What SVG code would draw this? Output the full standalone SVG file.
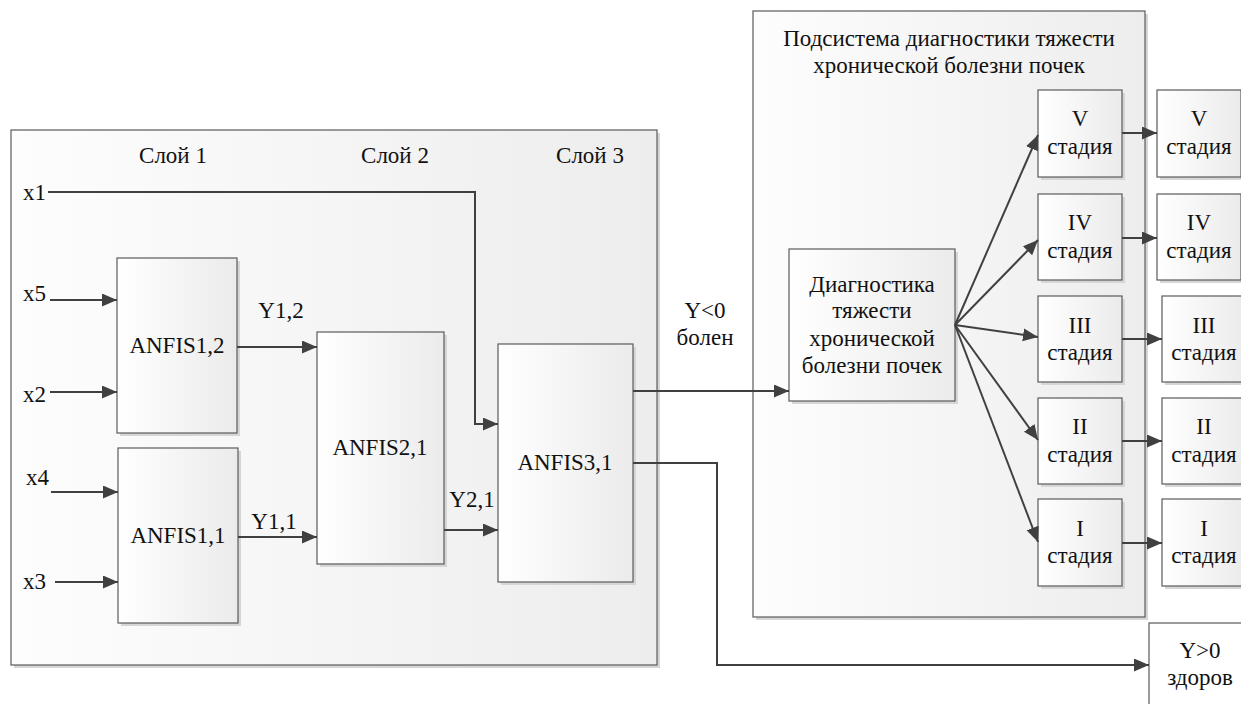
<svg xmlns="http://www.w3.org/2000/svg" width="1241" height="704" viewBox="0 0 1241 704">
<defs>
<linearGradient id="g" x1="0" y1="0" x2="1" y2="0">
<stop offset="0" stop-color="#ffffff"/>
<stop offset="1" stop-color="#ebebeb"/>
</linearGradient>
<linearGradient id="gp" x1="0" y1="0" x2="1" y2="0">
<stop offset="0" stop-color="#fdfdfd"/>
<stop offset="1" stop-color="#ededed"/>
</linearGradient>
<marker id="ah" markerUnits="userSpaceOnUse" markerWidth="16" markerHeight="14" refX="15" refY="6.5" orient="auto" viewBox="0 0 16 14">
<path d="M0,0 L15,6.5 L0,13 z" fill="#404040"/>
</marker>
<style>
.box{fill:url(#g);stroke:#5a5a5a;stroke-width:1.2}
.panel{fill:url(#gp);stroke:#5a5a5a;stroke-width:1.2}
.sh{fill:#d6d6d6}
.ar{fill:none;stroke:#404040;stroke-width:2;marker-end:url(#ah)}
.t{font-family:Liberation Serif, serif;font-size:23px;fill:#111}
.c{text-anchor:middle}
</style>
</defs>

<g id="panel-left">
<rect class="sh" x="14" y="133" width="646" height="535"/>
<rect class="panel" x="11" y="130" width="646" height="535"/>
<text class="t c" x="173" y="163">Слой 1</text>
<text class="t c" x="395" y="163">Слой 2</text>
<text class="t c" x="590" y="163">Слой 3</text>
</g>

<g id="panel-right">
<rect class="sh" x="756" y="14" width="392" height="606"/>
<rect class="panel" x="753" y="11" width="392" height="606"/>
<text class="t c" x="949" y="46">Подсистема диагностики тяжести</text>
<text class="t c" x="949" y="73">хронической болезни почек</text>
</g>

<g id="inputs">
<text class="t" x="23" y="200">x1</text>
<text class="t" x="23" y="301">x5</text>
<text class="t" x="23" y="402">x2</text>
<text class="t" x="26" y="485">x4</text>
<text class="t" x="23" y="589">x3</text>
</g>

<g id="anfis12">
<rect class="sh" x="120" y="261" width="120" height="175"/>
<rect class="box" x="117" y="258" width="120" height="175"/>
<text class="t c" x="177" y="353">ANFIS1,2</text>
</g>
<g id="anfis11">
<rect class="sh" x="121" y="451" width="120" height="175"/>
<rect class="box" x="118" y="448" width="120" height="175"/>
<text class="t c" x="178" y="543">ANFIS1,1</text>
</g>
<g id="anfis21">
<rect class="sh" x="320" y="335" width="127" height="232"/>
<rect class="box" x="317" y="332" width="127" height="232"/>
<text class="t c" x="380" y="455">ANFIS2,1</text>
</g>
<g id="anfis31">
<rect class="sh" x="501" y="347" width="135" height="238"/>
<rect class="box" x="498" y="344" width="135" height="238"/>
<text class="t c" x="565" y="470">ANFIS3,1</text>
</g>

<g id="diag">
<rect class="sh" x="792" y="252" width="166" height="152"/>
<rect class="box" x="789" y="249" width="166" height="152"/>
<text class="t c" x="872" y="292">Диагностика</text>
<text class="t c" x="872" y="318">тяжести</text>
<text class="t c" x="872" y="346">хронической</text>
<text class="t c" x="872" y="373">болезни почек</text>
</g>

<g id="stage5-in">
<rect class="sh" x="1041" y="93" width="84" height="87"/>
<rect class="box" x="1038" y="90" width="84" height="87"/>
<text class="t c" x="1080" y="126">V</text>
<text class="t c" x="1080" y="154">стадия</text>
</g>
<g id="stage4-in">
<rect class="sh" x="1041" y="197" width="84" height="86"/>
<rect class="box" x="1038" y="194" width="84" height="86"/>
<text class="t c" x="1080" y="230">IV</text>
<text class="t c" x="1080" y="258">стадия</text>
</g>
<g id="stage3-in">
<rect class="sh" x="1041" y="299" width="84" height="86"/>
<rect class="box" x="1038" y="296" width="84" height="86"/>
<text class="t c" x="1080" y="333">III</text>
<text class="t c" x="1080" y="360">стадия</text>
</g>
<g id="stage2-in">
<rect class="sh" x="1041" y="401" width="84" height="86"/>
<rect class="box" x="1038" y="398" width="84" height="86"/>
<text class="t c" x="1080" y="434">II</text>
<text class="t c" x="1080" y="462">стадия</text>
</g>
<g id="stage1-in">
<rect class="sh" x="1041" y="502" width="84" height="87"/>
<rect class="box" x="1038" y="499" width="84" height="87"/>
<text class="t c" x="1080" y="536">I</text>
<text class="t c" x="1080" y="563">стадия</text>
</g>

<g id="stage5-out">
<rect class="sh" x="1160" y="93" width="84" height="87"/>
<rect class="box" x="1157" y="90" width="84" height="87"/>
<text class="t c" x="1199" y="126">V</text>
<text class="t c" x="1199" y="154">стадия</text>
</g>
<g id="stage4-out">
<rect class="sh" x="1160" y="197" width="84" height="86"/>
<rect class="box" x="1157" y="194" width="84" height="86"/>
<text class="t c" x="1199" y="230">IV</text>
<text class="t c" x="1199" y="258">стадия</text>
</g>
<g id="stage3-out">
<rect class="sh" x="1165" y="299" width="84" height="86"/>
<rect class="box" x="1162" y="296" width="84" height="86"/>
<text class="t c" x="1204" y="333">III</text>
<text class="t c" x="1204" y="360">стадия</text>
</g>
<g id="stage2-out">
<rect class="sh" x="1165" y="401" width="84" height="86"/>
<rect class="box" x="1162" y="398" width="84" height="86"/>
<text class="t c" x="1204" y="434">II</text>
<text class="t c" x="1204" y="462">стадия</text>
</g>
<g id="stage1-out">
<rect class="sh" x="1165" y="502" width="84" height="87"/>
<rect class="box" x="1162" y="499" width="84" height="87"/>
<text class="t c" x="1204" y="536">I</text>
<text class="t c" x="1204" y="563">стадия</text>
</g>

<g id="healthy">
<rect x="1149" y="623" width="100" height="90" fill="#ffffff" stroke="#5a5a5a" stroke-width="1.2"/>
<text class="t c" x="1200" y="658">Y&gt;0</text>
<text class="t c" x="1200" y="685">здоров</text>
</g>

<g id="connectors">
<polyline class="ar" points="48,192 475,192 475,424 498,424"/>
<line class="ar" x1="50" y1="300" x2="117" y2="300"/>
<line class="ar" x1="50" y1="392" x2="117" y2="392"/>
<line class="ar" x1="51" y1="492" x2="118" y2="492"/>
<line class="ar" x1="55" y1="582" x2="118" y2="582"/>
<line class="ar" x1="237" y1="347" x2="317" y2="347"/>
<line class="ar" x1="238" y1="537" x2="317" y2="537"/>
<line class="ar" x1="444" y1="530" x2="498" y2="530"/>
<line class="ar" x1="633" y1="391" x2="789" y2="391"/>
<polyline class="ar" points="633,463 717,463 717,665 1149,665"/>
<line class="ar" x1="955" y1="325" x2="1038" y2="135"/>
<line class="ar" x1="955" y1="325" x2="1038" y2="240"/>
<line class="ar" x1="955" y1="325" x2="1038" y2="337"/>
<line class="ar" x1="955" y1="325" x2="1038" y2="440"/>
<line class="ar" x1="955" y1="325" x2="1038" y2="542"/>
<line class="ar" x1="1122" y1="133" x2="1157" y2="133"/>
<line class="ar" x1="1122" y1="238" x2="1157" y2="238"/>
<line class="ar" x1="1122" y1="339" x2="1162" y2="339"/>
<line class="ar" x1="1122" y1="441" x2="1162" y2="441"/>
<line class="ar" x1="1122" y1="543" x2="1162" y2="543"/>
<text class="t c" x="281" y="318">Y1,2</text>
<text class="t c" x="274" y="529">Y1,1</text>
<text class="t c" x="472" y="507">Y2,1</text>
<text class="t c" x="705" y="318">Y&lt;0</text>
<text class="t c" x="705" y="345">болен</text>
</g>
</svg>
